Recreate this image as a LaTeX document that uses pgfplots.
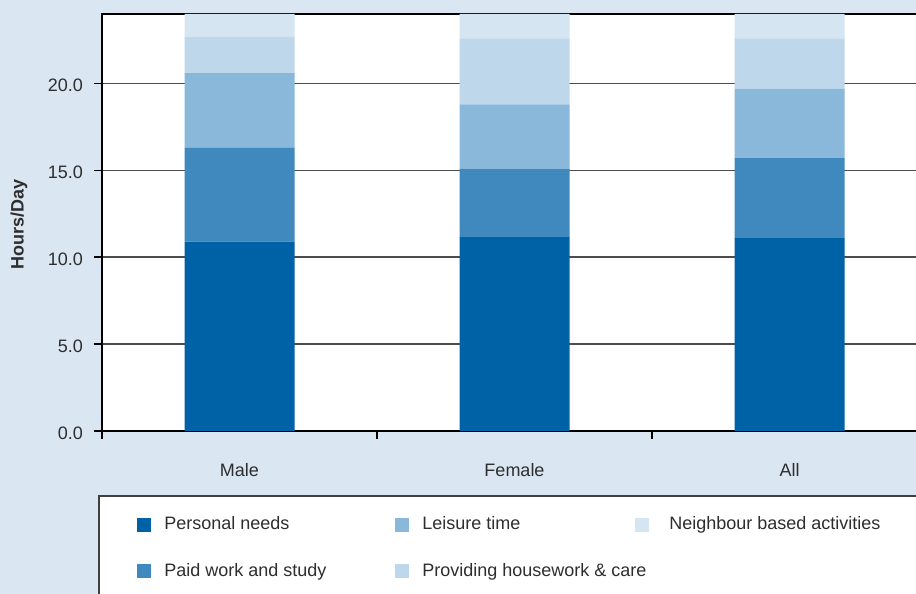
\documentclass[border=0pt]{standalone}
\usepackage{pgfplots}
\pgfplotsset{compat=1.18}
\usepackage{fontspec}
\setmainfont{Liberation Sans}

\definecolor{bgblue}{HTML}{DAE6F1}
\definecolor{cPersonal}{HTML}{0062A6}
\definecolor{cPaid}{HTML}{4089BF}
\definecolor{cLeisure}{HTML}{8AB8DA}
\definecolor{cHouse}{HTML}{BED7EA}
\definecolor{cNeigh}{HTML}{D6E5F2}
\definecolor{txt}{HTML}{2E2E2E}

% grid under the bars, axis lines over them
\pgfplotsset{
  layers/bars between/.define layer set={
    axis background,axis grid,main,axis ticks,axis lines,
    axis tick labels,axis descriptions,axis foreground}{},
}

% hours per day, by activity group
\pgfplotstableread{
x    personal paid leisure house neigh
0.5  10.9     5.4  4.3     2.1   1.3
1.5  11.2     3.9  3.7     3.8   1.4
2.5  11.1     4.6  4.0     2.9   1.4
}\hours

\begin{document}
\begin{tikzpicture}[font=\fontsize{9}{11}\selectfont, text=txt]
\fill[bgblue] (0,0) rectangle (458pt,297pt);
% legend frame
\draw[fill=white, draw=black!75, line width=0.9pt] (49.3pt,49pt) rectangle (480pt,-20pt);

\begin{axis}[
  set layers=bars between,
  at={(51pt,81.5pt)}, anchor=south west,
  scale only axis, width=412.5pt, height=208.5pt,
  xmin=0, xmax=3, ymin=0, ymax=24,
  axis background/.style={fill=white},
  ybar stacked, bar width=0.4,
  axis line style={line width=1.2pt, black},
  tick align=outside, xtick pos=bottom, ytick pos=left,
  major tick length=4pt,
  tick style={line width=0.8pt, black},
  xtick={0,1,2,3}, xticklabels={},
  extra x ticks={0.5,1.5,2.5},
  extra x tick labels={Male,Female,All},
  extra x tick style={major tick length=0pt,
    xticklabel style={text height=6.5pt, yshift=-12.5pt}},
  ytick={0,5,10,15,20},
  yticklabel style={xshift=-2pt, yshift=-1pt,
    /pgf/number format/fixed,
    /pgf/number format/fixed zerofill,
    /pgf/number format/precision=1,
    /pgf/number format/assume math mode=true},
  ymajorgrids, grid style={line width=0.75pt, black!70},
  ylabel={\bfseries Hours/Day},
  every axis y label/.style={at={(axis description cs:-0.1006,0.496)},
    rotate=90, anchor=center},
  legend columns=3,
  legend cell align=left,
  legend image code/.code={\fill[#1] (0pt,-3.5pt) rectangle (7pt,3.5pt);},
  legend style={at={(axis description cs:0.0424,-0.2041)}, anchor=north west,
    draw=none, fill=none, inner sep=0pt, column sep=0pt, row sep=14.85pt,
    nodes={inner sep=0pt, text height=6.5pt, text depth=1.9pt}},
]
\addplot[fill=cPersonal, draw=none, forget plot] table[x=x, y=personal] {\hours};
\addplot[fill=cPaid,     draw=none, forget plot] table[x=x, y=paid]     {\hours};
\addplot[fill=cLeisure,  draw=none, forget plot] table[x=x, y=leisure]  {\hours};
\addplot[fill=cHouse,    draw=none, forget plot] table[x=x, y=house]    {\hours};
\addplot[fill=cNeigh,    draw=none, forget plot] table[x=x, y=neigh]    {\hours};

\addlegendimage{fill=cPersonal, draw=none}
\addlegendentry{\makebox[122pt][l]{\hspace{6.5pt}Personal needs}}
\addlegendimage{fill=cLeisure, draw=none}
\addlegendentry{\makebox[113pt][l]{\hspace{6.5pt}Leisure time}}
\addlegendimage{fill=cNeigh, draw=none}
\addlegendentry{\hspace{10pt}Neighbour based activities}
\addlegendimage{fill=cPaid, draw=none}
\addlegendentry{\makebox[122pt][l]{\hspace{6.5pt}Paid work and study}}
\addlegendimage{fill=cHouse, draw=none}
\addlegendentry{\makebox[113pt][l]{\hspace{6.5pt}Providing housework \& care}}
\end{axis}
% page is the coloured panel; the frame and axis run on past its right edge
\pgfresetboundingbox
\useasboundingbox (0,0) rectangle (458pt,297pt);
\end{tikzpicture}
\end{document}
